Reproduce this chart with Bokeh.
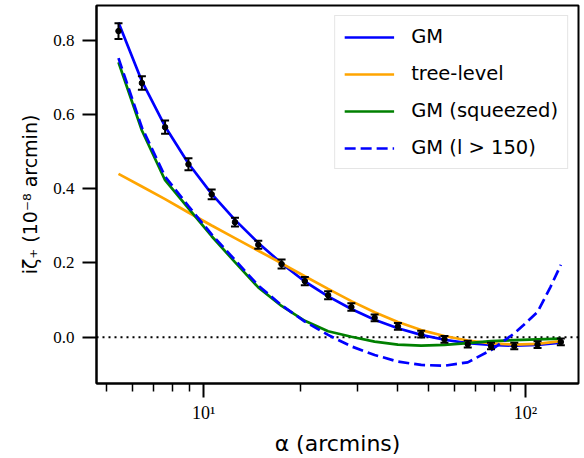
from bokeh.plotting import figure
from bokeh.models import (Range1d, FixedTicker, Span, Whisker, TeeHead,
                          ColumnDataSource)
from bokeh.embed import file_html
from bokeh.resources import INLINE

# ---------------- data ----------------
alpha = [5.43, 6.42, 7.58, 8.96, 10.58, 12.50, 14.77, 17.45, 20.61, 24.35,
         28.76, 33.97, 40.13, 47.41, 56.00, 66.16, 78.15, 92.32, 109.06, 128.83]
zeta_data = [0.825, 0.685, 0.566, 0.466, 0.385, 0.310, 0.249, 0.197, 0.151, 0.113,
             0.081, 0.052, 0.029, 0.008, -0.006, -0.019, -0.024, -0.024, -0.020, -0.013]
zeta_err = [0.021, 0.018, 0.018, 0.016, 0.013, 0.012, 0.011, 0.012, 0.011, 0.011,
            0.010, 0.009, 0.009, 0.009, 0.009, 0.009, 0.009, 0.009, 0.009, 0.009]

gm_curve = [0.848, 0.690, 0.568, 0.468, 0.386, 0.316, 0.254, 0.199, 0.150, 0.110,
            0.076, 0.047, 0.024, 0.006, -0.007, -0.016, -0.021, -0.023, -0.021, -0.015]
tree_curve = [0.440, 0.406, 0.372, 0.336, 0.301, 0.267, 0.233, 0.199, 0.164, 0.130,
              0.097, 0.067, 0.041, 0.019, 0.003, -0.009, -0.017, -0.020, -0.018, -0.011]
squeezed_curve = [0.741, 0.557, 0.423, 0.347, 0.272, 0.202, 0.134, 0.084, 0.044, 0.016,
                  0.001, -0.012, -0.020, -0.023, -0.021, -0.016, -0.011, -0.008, -0.006, -0.004]
lcut_x = [5.43, 6.42, 7.58, 8.96, 10.58, 12.50, 14.77, 17.45, 20.61, 24.35,
          28.76, 33.97, 40.13, 47.41, 56.00, 66.16, 78.15, 92.32, 98.5, 109.06,
          119.6, 128.83]
lcut_curve = [0.752, 0.565, 0.433, 0.353, 0.277, 0.208, 0.139, 0.086, 0.042, 0.006,
              -0.025, -0.048, -0.066, -0.075, -0.077, -0.068, -0.035, 0.010, 0.032, 0.068,
              0.135, 0.195]

y_ticks = [0.0, 0.2, 0.4, 0.6, 0.8]
x_ticks = [10, 100]
x_minor = [5, 6, 7, 8, 9, 20, 30, 40, 50, 60, 70, 80, 90]
x_tick_labels = {10: "10\u00b9", 100: "10\u00b2"}

# ---------------- figure ----------------
p = figure(width=584, height=458, x_axis_type="log",
           x_range=Range1d(4.639, 146.2), y_range=Range1d(-0.125, 0.894),
           output_backend="svg", toolbar_location=None,
           min_border_left=96, min_border_right=6, min_border_top=5,
           min_border_bottom=75)
p.grid.visible = False
p.outline_line_color = "black"
p.outline_line_width = 2
p.background_fill_color = "white"
p.border_fill_color = "white"

# zero line
p.add_layout(Span(location=0, dimension="width", line_color="black",
                  line_width=2, line_dash="2 4", level="underlay"))

LW = 2.7
p.line(alpha, gm_curve, line_color="#0000ff", line_width=LW, legend_label="GM")
p.line(alpha, tree_curve, line_color="#ffa500", line_width=LW, legend_label="tree-level")
p.line(alpha, squeezed_curve, line_color="#008000", line_width=LW,
       legend_label="GM (squeezed)")
p.line(lcut_x, lcut_curve, line_color="#0000ff", line_width=LW, line_dash="11 5",
       legend_label="GM (l > 150)")

src = ColumnDataSource(dict(x=alpha, y=zeta_data,
                            lo=[a - b for a, b in zip(zeta_data, zeta_err)],
                            hi=[a + b for a, b in zip(zeta_data, zeta_err)]))
w = Whisker(source=src, base="x", lower="lo", upper="hi", dimension="height",
            line_color="black", line_width=2,
            upper_head=TeeHead(size=8, line_color="black", line_width=2),
            lower_head=TeeHead(size=8, line_color="black", line_width=2),
            level="overlay")
p.add_layout(w)
p.scatter("x", "y", source=src, size=5.5, color="black")

# axes
xa = p.xaxis[0]
xa.ticker = FixedTicker(ticks=x_ticks, minor_ticks=x_minor)
xa.major_label_overrides = x_tick_labels
xa.axis_label = "\u03b1 (arcmins)"
ya = p.yaxis[0]
ya.ticker = FixedTicker(ticks=y_ticks)
ya.major_label_overrides = {t: "%.1f" % t for t in y_ticks}
ya.axis_label = "i\u03b6\u208a (10\u207b\u2078 arcmin)"

for ax in (xa, ya):
    ax.axis_line_width = 2
    ax.axis_line_color = "black"
    ax.major_tick_out = 14
    ax.major_tick_in = 0
    ax.major_tick_line_width = 2
    ax.minor_tick_out = 8
    ax.minor_tick_in = 0
    ax.minor_tick_line_width = 1.5
    ax.major_label_text_font = "Liberation Serif"
    ax.major_label_text_color = "black"
    ax.axis_label_text_font = "DejaVu Sans"
    ax.axis_label_text_font_style = "normal"
    ax.axis_label_text_color = "black"
ya.major_label_text_font_size = "17px"
xa.major_label_text_font_size = "18px"
xa.axis_label_text_font_size = "22px"
ya.axis_label_text_font_size = "19px"
ya.minor_tick_out = 0
ya.major_label_standoff = 8
xa.major_label_standoff = 5
ya.axis_label_standoff = 9
xa.axis_label_standoff = 5

# legend
lg = p.legend[0]
lg.location = "top_right"
lg.margin = 10
lg.padding = 9
lg.spacing = 14
lg.glyph_width = 50
lg.glyph_height = 20
lg.label_height = 20
lg.label_standoff = 17
lg.label_text_font = "DejaVu Sans"
lg.label_text_font_size = "19.5px"
lg.label_text_color = "black"
lg.border_line_color = "#cccccc"
lg.border_line_width = 1
lg.background_fill_color = "white"
lg.background_fill_alpha = 0.85

open("out.html", "w").write(file_html(p, INLINE))
